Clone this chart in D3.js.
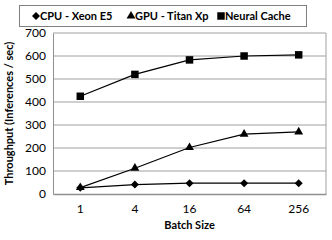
<!DOCTYPE html>
<html>
<head>
<meta charset="utf-8">
<script src="https://cdn.jsdelivr.net/npm/d3@7"></script>
<style>
body { margin: 0; background: #fff; }
text { font-family: Lato, "Open Sans", sans-serif; }
</style>
</head>
<body>
<div id="chart"></div>
<script>
// values
var batch = ["1", "4", "16", "64", "256"];
var cpu = [27, 41, 47, 47, 47];
var gpu = [28, 112, 202, 260, 270];
var neural = [425, 520, 583, 600, 605];
var yTicks = [0, 100, 200, 300, 400, 500, 600, 700];
var names = ["CPU - Xeon E5", "GPU - Titan Xp", "Neural Cache"];

var width = 332, height = 240;
var margin = {top: 33, right: 6, bottom: 46, left: 53};
var w = width - margin.left - margin.right,
    h = height - margin.top - margin.bottom;

var svg = d3.select("#chart").append("svg")
    .attr("width", width).attr("height", height);

var g = svg.append("g")
    .attr("transform", "translate(" + margin.left + "," + margin.top + ")");

var x = d3.scaleBand().domain(batch).range([0, w]);
var y = d3.scaleLinear().domain([0, 700]).range([h, 0]);

// gridlines
g.selectAll(".grid").data(yTicks.slice(1))
  .enter().append("line")
    .attr("x1", 0).attr("x2", w)
    .attr("y1", d => y(d)).attr("y2", d => y(d))
    .attr("stroke", "#a0a0a0").attr("stroke-width", 1);

// plot box right side
g.append("line").attr("x1", w).attr("x2", w).attr("y1", 0).attr("y2", h)
    .attr("stroke", "#a0a0a0");

// axes
var yAxis = g.append("g").call(d3.axisLeft(y).tickValues(yTicks).tickSize(0).tickPadding(7));
yAxis.select(".domain").attr("stroke", "#909090");
yAxis.selectAll("text").attr("font-size", 12).attr("fill", "#000");

var xAxis = g.append("g").attr("transform", "translate(0," + h + ")")
    .call(d3.axisBottom(x).tickSize(0).tickPadding(10));
xAxis.select(".domain").attr("stroke", "#909090").attr("stroke-width", 1.5);
xAxis.selectAll("text").attr("font-size", 12).attr("fill", "#000");

// titles
svg.append("text")
    .attr("x", margin.left + w / 2).attr("y", 229)
    .attr("text-anchor", "middle").attr("font-size", 11).attr("font-weight", "bold")
    .text("Batch Size");
svg.append("text")
    .attr("transform", "translate(13," + (margin.top + h / 2) + ") rotate(-90)")
    .attr("text-anchor", "middle").attr("font-size", 11).attr("font-weight", "bold")
    .text("Throughput (Inferences / sec)");

// markers: diamond is a rotated square
function marker(k) {
  if (k == 0) return "M0,-4L4,0L0,4L-4,0Z";
  if (k == 1) return d3.symbol().type(d3.symbolTriangle).size(34)();
  return d3.symbol().type(d3.symbolSquare).size(56)();
}

var line = d3.line().x((d, i) => x(batch[i]) + x.bandwidth() / 2).y(d => y(d));
var series = [cpu, gpu, neural];

series.forEach(function(s, k) {
  g.append("path").datum(s).attr("d", line)
    .attr("fill", "none").attr("stroke", "#000").attr("stroke-width", 1.2);
  g.selectAll(".m" + k).data(s).enter().append("path")
    .attr("d", marker(k))
    .attr("transform", (d, i) => "translate(" + (x(batch[i]) + x.bandwidth() / 2) + "," + y(d) + ")")
    .attr("fill", "#000");
});

// legend
svg.append("rect").attr("x", 19.5).attr("y", 5.5).attr("width", 287).attr("height", 21)
    .attr("fill", "#fff").attr("stroke", "#808080");
var legX = [36, 131, 221];
names.forEach(function(n, k) {
  svg.append("path")
    .attr("d", marker(k))
    .attr("transform", "translate(" + legX[k] + ",16)").attr("fill", "#000");
  svg.append("text").attr("x", legX[k] + 4).attr("y", 20)
    .attr("font-size", 11).attr("font-weight", "bold").text(n);
});
</script>
</body>
</html>
